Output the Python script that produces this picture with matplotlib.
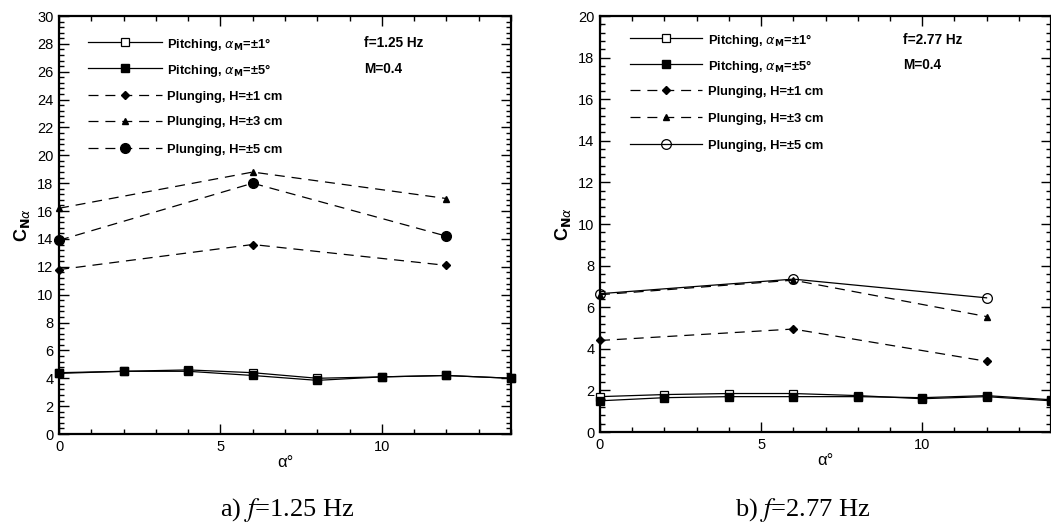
import matplotlib
matplotlib.use('Agg')
import matplotlib.pyplot as plt
from matplotlib.ticker import MultipleLocator

plt.rcParams['font.family'] = ['Liberation Sans', 'DejaVu Sans']

# Angle of attack (deg)
alpha_pitch = [0, 2, 4, 6, 8, 10, 12, 14]
alpha_plunge = [0, 6, 12]

# a) f = 1.25 Hz
a_pitch1 = [4.4, 4.5, 4.6, 4.4, 4.0, 4.1, 4.2, 4.0]
a_pitch5 = [4.35, 4.5, 4.5, 4.2, 3.85, 4.1, 4.2, 4.0]
a_plunge1 = [11.8, 13.6, 12.1]
a_plunge3 = [16.2, 18.8, 16.9]
a_plunge5 = [13.9, 18.0, 14.2]

# b) f = 2.77 Hz
b_pitch1 = [1.7, 1.8, 1.85, 1.85, 1.75, 1.6, 1.7, 1.5]
b_pitch5 = [1.5, 1.65, 1.7, 1.7, 1.7, 1.65, 1.75, 1.55]
b_plunge1 = [4.4, 4.95, 3.4]
b_plunge3 = [6.6, 7.3, 5.55]
b_plunge5 = [6.65, 7.35, 6.45]

labels = [r'Pitching, $\alpha_{\mathbf{M}}$=±1°',
          r'Pitching, $\alpha_{\mathbf{M}}$=±5°',
          'Plunging, H=±1 cm',
          'Plunging, H=±3 cm',
          'Plunging, H=±5 cm']

DASH = (8, 5.5)
FS = 9.3


def style_axes(ax, ymax):
    ax.set_xlim(0, 14)
    ax.set_ylim(0, ymax)
    ax.xaxis.set_major_locator(MultipleLocator(5))
    ax.xaxis.set_minor_locator(MultipleLocator(1))
    ax.yaxis.set_major_locator(MultipleLocator(2))
    ax.yaxis.set_minor_locator(MultipleLocator(0.4))
    ax.tick_params(which='both', direction='in', top=True, right=True,
                   width=1, labelsize=10.5, pad=4)
    ax.tick_params(which='major', length=7)
    ax.tick_params(which='minor', length=3.5)
    for s in ax.spines.values():
        s.set_linewidth(1.6)
    ax.set_xlabel('α°', fontsize=12, labelpad=1)
    ax.set_ylabel(r'C$_{\mathbf{N}\alpha}$', fontsize=13, fontweight='bold', labelpad=4)


def draw(ax, p1, p5, h1, h3, h5, h5_solid, rows, hx):
    kw = dict(color='black', lw=0.9, clip_on=False, zorder=3)
    styles = [
        dict(marker='s', ms=5.5, mfc='white', mec='black', mew=0.9),
        dict(marker='s', ms=5.5, mfc='black'),
        dict(marker='D', ms=4.5, dashes=DASH),
        dict(marker='^', ms=5, dashes=DASH),
        dict(marker='o', ms=7, mfc='none', mec='black', mew=0.9) if h5_solid
        else dict(marker='o', ms=7, dashes=DASH),
    ]
    for x, y, st in zip([alpha_pitch, alpha_pitch, alpha_plunge, alpha_plunge, alpha_plunge],
                        [p1, p5, h1, h3, h5], styles):
        ax.plot(x, y, **st, **kw)

    # Tecplot-like legend drawn in axes coordinates
    x0, x1, xt = hx
    for yr, st, lab in zip(rows, styles, labels):
        line_st = {k: v for k, v in st.items() if k not in ('marker', 'ms', 'mfc', 'mec', 'mew')}
        ax.plot([x0, x1], [yr, yr], transform=ax.transAxes, color='black', lw=0.9, **line_st)
        mk_st = {k: v for k, v in st.items() if k != 'dashes'}
        ax.plot([(x0 + x1) / 2], [yr], transform=ax.transAxes, color='black', ls='none', **mk_st)
        ax.text(xt, yr, lab, transform=ax.transAxes, fontsize=FS, fontweight='bold',
                va='center_baseline')


fig = plt.figure(figsize=(10.51, 5.25), dpi=100)
ax1 = fig.add_axes([59 / 1051, 91 / 525, 452 / 1051, 418 / 525])
ax2 = fig.add_axes([600 / 1051, 93 / 525, 451 / 1051, 416 / 525])

style_axes(ax1, 30)
draw(ax1, a_pitch1, a_pitch5, a_plunge1, a_plunge3, a_plunge5, False,
     [0.938, 0.876, 0.811, 0.749, 0.684], (0.064, 0.228, 0.239))
ax1.text(0.675, 0.938, 'f=1.25 Hz', transform=ax1.transAxes, fontsize=9.8,
         fontweight='bold', va='center_baseline')
ax1.text(0.675, 0.876, 'M=0.4', transform=ax1.transAxes, fontsize=9.8,
         fontweight='bold', va='center_baseline')

style_axes(ax2, 20)
draw(ax2, b_pitch1, b_pitch5, b_plunge1, b_plunge3, b_plunge5, True,
     [0.947, 0.885, 0.822, 0.757, 0.692], (0.0665, 0.226, 0.240))
ax2.text(0.672, 0.947, 'f=2.77 Hz', transform=ax2.transAxes, fontsize=9.8,
         fontweight='bold', va='center_baseline')
ax2.text(0.672, 0.885, 'M=0.4', transform=ax2.transAxes, fontsize=9.8,
         fontweight='bold', va='center_baseline')

# captions
fig.text(287 / 1051, 1 - 510 / 525, r'a) $f$=1.25 Hz', ha='center', va='center',
         fontsize=19, family='Liberation Serif', math_fontfamily='stix')
fig.text(803 / 1051, 1 - 510 / 525, r'b) $f$=2.77 Hz', ha='center', va='center',
         fontsize=19, family='Liberation Serif', math_fontfamily='stix')

fig.savefig('out.png', dpi=100)
